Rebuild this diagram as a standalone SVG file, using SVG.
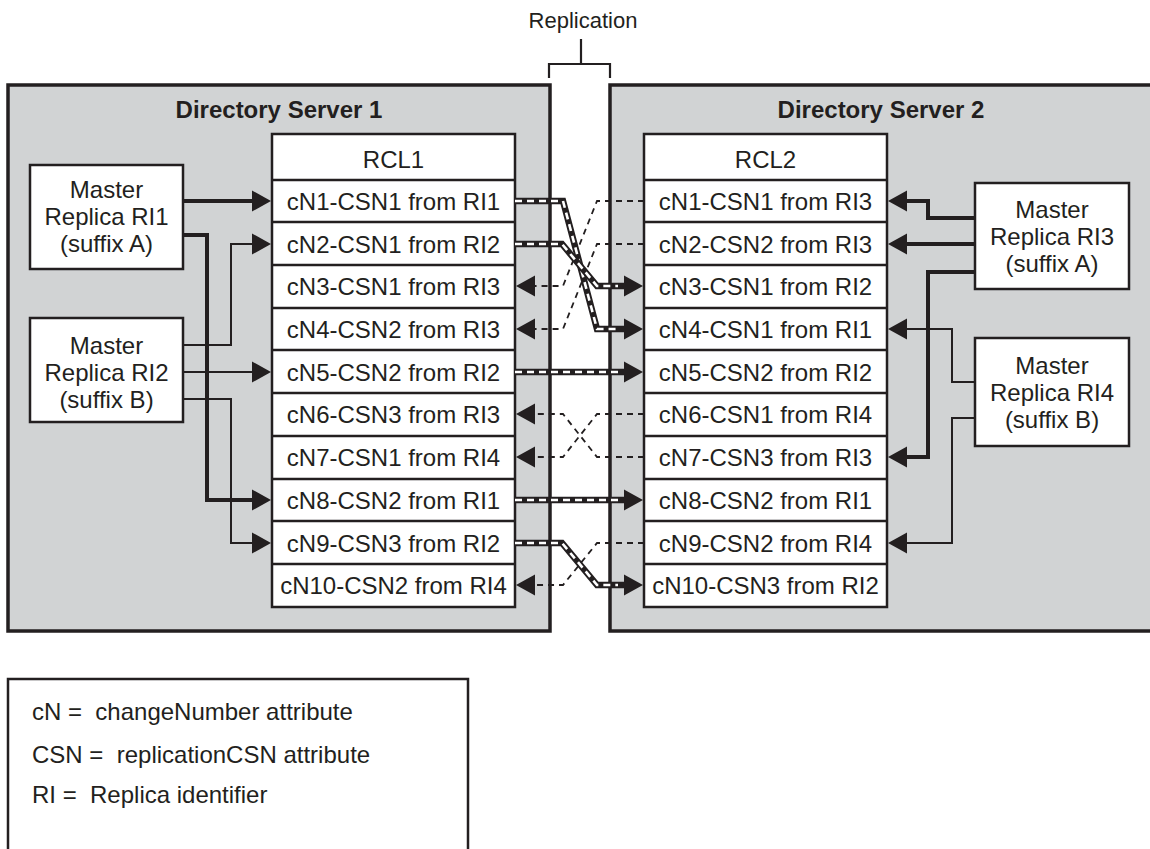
<svg xmlns="http://www.w3.org/2000/svg" width="1150" height="849" viewBox="0 0 1150 849">
<style>
text{font-family:"Liberation Sans",Arial,sans-serif;font-size:24px;fill:#231f20}
.t{text-anchor:middle}
.b{font-weight:bold}
.srv{fill:#d1d3d4;stroke:#231f20;stroke-width:3.5}
.box{fill:#fff;stroke:#231f20;stroke-width:2.5}
.rl{stroke:#231f20;stroke-width:2.5}
.thick{fill:none;stroke:#231f20;stroke-width:4}
.thin{fill:none;stroke:#231f20;stroke-width:2}
.dash{fill:none;stroke:#231f20;stroke-width:1.8;stroke-dasharray:6 5}
.caseo{fill:none;stroke:#231f20;stroke-width:6.5}
.casei{fill:none;stroke:#fff;stroke-width:2.6;stroke-dasharray:7 5}
</style>
<defs>
<marker id="ah" markerUnits="userSpaceOnUse" markerWidth="20" markerHeight="22" refX="0" refY="10.5" orient="auto" overflow="visible">
<path d="M0,0 L19,10.5 L0,21 z" fill="#231f20"/>
</marker>
</defs>
<g id="replication-label">
<text class="t" x="583" y="28" style="font-size:22px">Replication</text>
<path d="M581,39 V64 M549,78 V64 H610 V78" fill="none" stroke="#231f20" stroke-width="2.2"/>
</g>
<g id="server1">
<rect class="srv" x="8" y="85" width="542" height="546"/>
<text class="t b" x="279" y="118">Directory Server 1</text>
</g>
<g id="server2">
<rect class="srv" x="610" y="85" width="545" height="546"/>
<text class="t b" x="881" y="118">Directory Server 2</text>
</g>
<g id="rcl1">
<rect class="box" x="272" y="134" width="243" height="473"/>
<path class="rl" d="M272,180H515M272,222H515M272,265H515M272,308H515M272,350H515M272,393H515M272,436H515M272,479H515M272,521H515M272,564H515"/>
<text class="t" x="393.5" y="168">RCL1</text>
<text class="t" x="393.5" y="209.5">cN1-CSN1 from RI1</text>
<text class="t" x="393.5" y="252.5">cN2-CSN1 from RI2</text>
<text class="t" x="393.5" y="294.5">cN3-CSN1 from RI3</text>
<text class="t" x="393.5" y="337.5">cN4-CSN2 from RI3</text>
<text class="t" x="393.5" y="380.5">cN5-CSN2 from RI2</text>
<text class="t" x="393.5" y="422.5">cN6-CSN3 from RI3</text>
<text class="t" x="393.5" y="465.5">cN7-CSN1 from RI4</text>
<text class="t" x="393.5" y="508.5">cN8-CSN2 from RI1</text>
<text class="t" x="393.5" y="551.5">cN9-CSN3 from RI2</text>
<text class="t" x="393.5" y="593.5">cN10-CSN2 from RI4</text>
</g>
<g id="rcl2">
<rect class="box" x="644" y="134" width="243" height="473"/>
<path class="rl" d="M644,180H887M644,222H887M644,265H887M644,308H887M644,350H887M644,393H887M644,436H887M644,479H887M644,521H887M644,564H887"/>
<text class="t" x="765.5" y="168">RCL2</text>
<text class="t" x="765.5" y="209.5">cN1-CSN1 from RI3</text>
<text class="t" x="765.5" y="252.5">cN2-CSN2 from RI3</text>
<text class="t" x="765.5" y="294.5">cN3-CSN1 from RI2</text>
<text class="t" x="765.5" y="337.5">cN4-CSN1 from RI1</text>
<text class="t" x="765.5" y="380.5">cN5-CSN2 from RI2</text>
<text class="t" x="765.5" y="422.5">cN6-CSN1 from RI4</text>
<text class="t" x="765.5" y="465.5">cN7-CSN3 from RI3</text>
<text class="t" x="765.5" y="508.5">cN8-CSN2 from RI1</text>
<text class="t" x="765.5" y="551.5">cN9-CSN2 from RI4</text>
<text class="t" x="765.5" y="593.5">cN10-CSN3 from RI2</text>
</g>
<g id="ri1">
<rect class="box" x="30" y="165" width="153" height="104"/>
<text class="t" x="106.5" y="197.5">Master</text>
<text class="t" x="106.5" y="224.5">Replica RI1</text>
<text class="t" x="106.5" y="251.5">(suffix A)</text>
</g>
<g id="ri2">
<rect class="box" x="30" y="318" width="153" height="104"/>
<text class="t" x="106.5" y="353.5">Master</text>
<text class="t" x="106.5" y="380.5">Replica RI2</text>
<text class="t" x="106.5" y="407.5">(suffix B)</text>
</g>
<g id="ri3">
<rect class="box" x="975" y="183" width="154" height="106"/>
<text class="t" x="1052" y="217.5">Master</text>
<text class="t" x="1052" y="244.5">Replica RI3</text>
<text class="t" x="1052" y="271.5">(suffix A)</text>
</g>
<g id="ri4">
<rect class="box" x="975" y="338" width="154" height="108"/>
<text class="t" x="1052" y="373.5">Master</text>
<text class="t" x="1052" y="400.5">Replica RI4</text>
<text class="t" x="1052" y="427.5">(suffix B)</text>
</g>
<g id="connectors">
<path class="thick" marker-end="url(#ah)" d="M183,201H252"/>
<path class="thick" marker-end="url(#ah)" d="M183,235H207V500H252"/>
<path class="thin" marker-end="url(#ah)" d="M183,345H231V244H252"/>
<path class="thin" marker-end="url(#ah)" d="M183,372H252"/>
<path class="thin" marker-end="url(#ah)" d="M183,399H231V543H252"/>
<path class="thick" marker-end="url(#ah)" d="M975,218H928V201H907"/>
<path class="thick" marker-end="url(#ah)" d="M975,244H907"/>
<path class="thick" marker-end="url(#ah)" d="M975,272H928V457H907"/>
<path class="thin" marker-end="url(#ah)" d="M975,382H952V329H907"/>
<path class="thin" marker-end="url(#ah)" d="M975,418H952V543H907"/>
<path class="dash" marker-end="url(#ah)" d="M644,201H597L563,286H535"/>
<path class="dash" marker-end="url(#ah)" d="M644,244H597L563,329H535"/>
<path class="dash" marker-end="url(#ah)" d="M644,414H597L563,457H535"/>
<path class="dash" marker-end="url(#ah)" d="M644,457H597L563,414H535"/>
<path class="dash" marker-end="url(#ah)" d="M644,543H597L563,585H535"/>
<path class="caseo" marker-end="url(#ah)" d="M515,201H563L597,329H624"/>
<path class="casei" d="M515,201H563L597,329H618"/>
<path class="caseo" marker-end="url(#ah)" d="M515,244H562L597,286H624"/>
<path class="casei" d="M515,244H562L597,286H618"/>
<path class="caseo" marker-end="url(#ah)" d="M515,372H624"/>
<path class="casei" d="M515,372H618"/>
<path class="caseo" marker-end="url(#ah)" d="M515,500H624"/>
<path class="casei" d="M515,500H618"/>
<path class="caseo" marker-end="url(#ah)" d="M515,543H562L597,585H624"/>
<path class="casei" d="M515,543H562L597,585H618"/>
</g>
<g id="legend">
<rect x="8" y="679" width="460" height="200" fill="#fff" stroke="#231f20" stroke-width="2.5"/>
<text x="32" y="720" xml:space="preserve">cN =  changeNumber attribute</text>
<text x="32" y="763" xml:space="preserve">CSN =  replicationCSN attribute</text>
<text x="32" y="803" xml:space="preserve">RI =  Replica identifier</text>
</g>
</svg>
